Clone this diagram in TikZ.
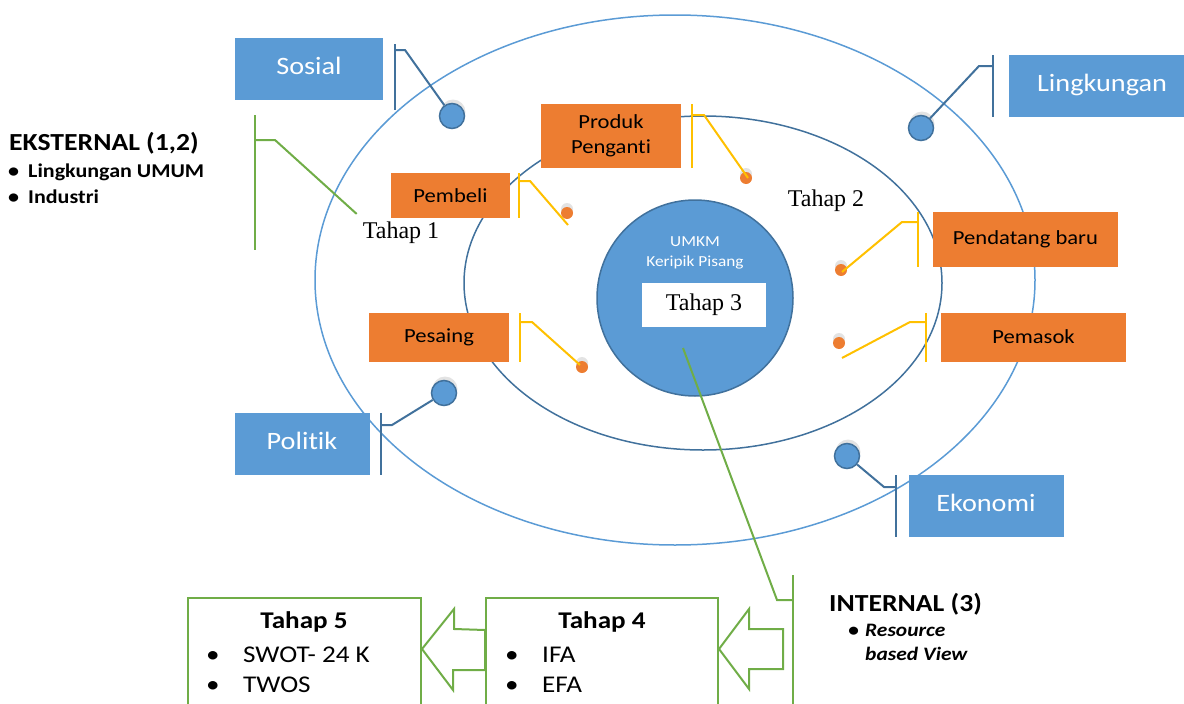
\documentclass[tikz,border=0pt]{standalone}
\usepackage{fontspec}
\setmainfont{Carlito}[FakeStretch=1.13,Ligatures=CommonOff]
\newfontfamily\timesfont{Liberation Serif}
\usepackage{tikz}
\usetikzlibrary{calc,shadows}
\definecolor{EnvBlue}{HTML}{5B9BD5}
\definecolor{EnvLine}{HTML}{41719C}
\definecolor{IndOrange}{HTML}{ED7D31}
\definecolor{IndGold}{HTML}{FFC000}
\definecolor{StageGreen}{HTML}{70AD47}

\begin{document}
\begin{tikzpicture}[x=1pt,y=-1pt,
  envbox/.style={fill=EnvBlue,text=white,inner sep=0pt,
    font=\fontsize{25}{28}\selectfont},
  indbox/.style={fill=IndOrange,text=black,inner sep=0pt,align=center,
    font=\fontsize{20}{25}\selectfont},
  envdot/.style={circle,draw=EnvLine,fill=EnvBlue,line width=1.5pt,
    minimum size=25pt,inner sep=0pt,
    drop shadow={shadow xshift=1pt,shadow yshift=4pt,opacity=0.22,fill=gray}},
  inddot/.style={circle,fill=IndOrange,minimum size=12pt,inner sep=0pt,
    drop shadow={shadow xshift=0pt,shadow yshift=4pt,opacity=0.22,fill=gray}},
  envconn/.style={draw=EnvLine,line width=2pt},
  indconn/.style={draw=IndGold,line width=2pt},
  stageconn/.style={draw=StageGreen,line width=2pt},
  stagelbl/.style={font=\timesfont\fontsize{24}{26}\selectfont,inner sep=0pt},
  stepbox/.style={draw=StageGreen,fill=white,line width=2pt,inner sep=0pt},
  blockarrow/.style={draw=StageGreen,fill=white,line width=2pt,line join=miter},
  steptitle/.style={font=\bfseries\fontsize{24}{28}\selectfont,inner sep=0pt},
  stepitem/.style={font=\fontsize{24}{28}\selectfont,inner sep=0pt,anchor=west},
  sidehead/.style={font=\bfseries\fontsize{24.5}{28}\selectfont,inner sep=0pt,
    anchor=west},
  sideitem/.style={font=\bfseries\fontsize{19.5}{26}\selectfont,inner sep=0pt,
    anchor=north west,align=left}
]
  \useasboundingbox (0,0) rectangle (1184,704);

  % rings
  \draw[EnvBlue,line width=1.5pt] (675,280) ellipse [x radius=360pt,y radius=265pt];
  \draw[EnvLine,line width=1.5pt] (703,283) ellipse [x radius=239pt,y radius=167pt];
  \node[circle,draw=EnvLine,fill=EnvBlue,line width=1.5pt,minimum size=196pt,
    inner sep=0pt] (umkm) at (695,298) {};
  \node[text=white,align=center,font=\fontsize{15.3}{20}\selectfont] (umkmlbl)
    at (695,253) {UMKM\\Keripik Pisang};
  \node[fill=white,stagelbl,minimum width=124pt,minimum height=44pt] (tahap3)
    at (704,305) {Tahap 3};

  % lingkungan umum
  \node[envbox,minimum width=148pt,minimum height=62pt] (sosial) at (309,69)
    {\raisebox{7pt}{Sosial}};
  \node[envbox,minimum width=175pt,minimum height=62pt] (lingk) at (1096,86)
    {\raisebox{7pt}{\hspace*{12pt}Lingkungan}};
  \node[envbox,minimum width=135pt,minimum height=62pt] (politik) at (302,444)
    {\raisebox{7pt}{Politik}};
  \node[envbox,minimum width=155pt,minimum height=62pt] (ekonomi) at (986,506)
    {\raisebox{7pt}{Ekonomi}};

  \node[envdot] (dsos) at (452,116) {};
  \node[envdot] (dling) at (921,128) {};
  \node[envdot] (dpol) at (444,393) {};
  \node[envdot] (deko) at (847,456) {};

  \coordinate (bsos) at (395,50);
  \coordinate (bling) at (993,66);
  \coordinate (bpol) at (381,425);
  \coordinate (beko) at (896,487);
  \draw[envconn] (395,44) -- (395,110);
  \draw[envconn] (993,55) -- (993,117);
  \draw[envconn] (381,413) -- (381,475);
  \draw[envconn] (896,475) -- (896,537);
  \draw[envconn] (bsos) -- ++(10,0) -- (dsos);
  \draw[envconn] (bling) -- ++(-14,0) -- (dling);
  \draw[envconn] (bpol) -- ++(11,0) -- (dpol);
  \draw[envconn] (beko) -- ++(-12,0) -- (deko);

  % lingkungan industri
  \node[indbox,minimum width=140pt,minimum height=64pt] (produk) at (611,136)
    {\raisebox{-5pt}{\begin{tabular}{@{}c@{}}Produk\\Penganti\end{tabular}}};
  \node[indbox,minimum width=119pt,minimum height=45pt] (pembeli) at (450.5,195.5)
    {Pembeli};
  \node[indbox,minimum width=185pt,minimum height=55pt] (pendatang) at (1025.5,239.5)
    {\raisebox{4pt}{Pendatang baru}};
  \node[indbox,minimum width=140pt,minimum height=49pt] (pesaing) at (439,337.5)
    {\raisebox{2pt}{Pesaing}};
  \node[indbox,minimum width=185pt,minimum height=49pt] (pemasok) at (1033.5,337.5)
    {\raisebox{2pt}{Pemasok}};

  \node[inddot] (dprod) at (746,178) {};
  \node[inddot] (dpemb) at (567,213) {};
  \node[inddot] (dpend) at (841,270) {};
  \node[inddot] (dpmsk) at (839,343) {};
  \node[inddot] (dpsg) at (582,367) {};

  \coordinate (bprod) at (692,115);
  \coordinate (bpemb) at (519,181);
  \coordinate (bpend) at (918,222);
  \coordinate (bpmsk) at (926,322);
  \coordinate (bpsg) at (520,322);
  \draw[indconn] (692,104) -- (692,168);
  \draw[indconn] (519,173) -- (519,218);
  \draw[indconn] (918,212) -- (918,267);
  \draw[indconn] (926,313) -- (926,362);
  \draw[indconn] (520,313) -- (520,362);
  \draw[indconn] (bprod) -- ++(12,0) -- ($(dprod)+(2,0)$);
  \draw[indconn] (bpemb) -- ++(11,0) -- ($(dpemb)+(1,12)$);
  \draw[indconn] (bpend) -- ++(-16,0) -- ($(dpend)+(1,2)$);
  \draw[indconn] (bpmsk) -- ++(-16,0) -- ($(dpmsk)+(3,15)$);
  \draw[indconn] (bpsg) -- ++(12,0) -- ($(dpsg)+(-2,-2)$);

  % tahap labels
  \node[stagelbl] (tahap1) at (401,233) {Tahap 1};
  \node[stagelbl] (tahap2) at (826,201) {Tahap 2};

  % eksternal
  \node[sidehead] (eksternal) at (9,143) {EKSTERNAL (1,2)};
  \node[sideitem] (eksitems) at (8,164)
    {\makebox[20pt][l]{\textbullet}Lingkungan UMUM\\
     \makebox[20pt][l]{\textbullet}Industri};
  \coordinate (beks) at (255,140);
  \draw[stageconn] (255,115) -- (255,250);
  \draw[stageconn] (beks) -- ++(20,0) -- ($(tahap1.north west)+(-6,-8)$);

  % internal
  \node[sidehead] (internal) at (829,604) {INTERNAL (3)};
  \node[sideitem,font=\bfseries\itshape\fontsize{19}{24}\selectfont] (intitems)
    at (848,624) {\makebox[17pt][l]{\textbullet}Resource\\
     \hspace*{17pt}based View};
  \coordinate (bint) at (793,600);
  \draw[stageconn] (793,575) -- (793,710);
  \draw[stageconn] ($(umkm)+(-12,50)$) -- (777,600) -- (bint);

  % tahap 4 dan 5
  \node[stepbox,minimum width=233pt,minimum height=114pt] (t5) at (304.5,655) {};
  \node[stepbox,minimum width=232pt,minimum height=114pt] (t4) at (602,655) {};
  \node[steptitle] (t5title) at (304,622) {Tahap 5};
  \node[stepitem] (t5a) at (206,655) {\makebox[37pt][l]{\textbullet}SWOT- 24 K};
  \node[stepitem] (t5b) at (206,685) {\makebox[37pt][l]{\textbullet}TWOS};
  \node[steptitle] (t4title) at (602,622) {Tahap 4};
  \node[stepitem] (t4a) at (505,655) {\makebox[37pt][l]{\textbullet}IFA};
  \node[stepitem] (t4b) at (505,685) {\makebox[37pt][l]{\textbullet}EFA};

  \draw[blockarrow] ([yshift=6pt]t5.east) -- ++(32,-40) -- ++(0,20)
    -- ([yshift=25pt]t4.west) -- ++(0,40) -- ++(-32,0) -- ++(0,20) -- cycle;
  \draw[blockarrow] ([yshift=6pt]t4.east) -- ++(30,-40) -- ++(0,20)
    -- ++(34,0) -- ++(0,40) -- ++(-34,0) -- ++(0,20) -- cycle;
\end{tikzpicture}
\end{document}
